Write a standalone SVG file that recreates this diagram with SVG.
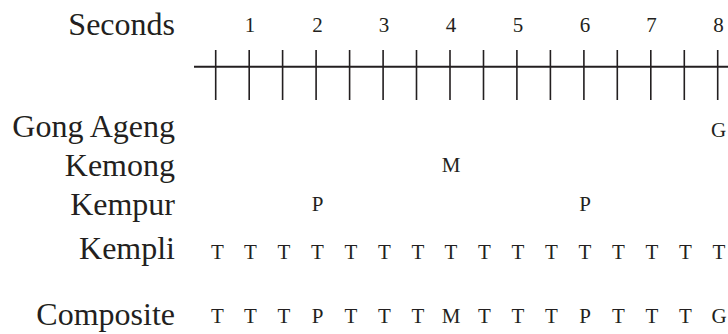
<svg xmlns="http://www.w3.org/2000/svg" width="728" height="334" viewBox="0 0 728 334">
<style>
.lbl{font-family:"Liberation Serif","Times New Roman",serif;font-size:32px;fill:#231f20;text-anchor:end}
.sm{font-family:"Liberation Serif","Times New Roman",serif;font-size:21px;fill:#231f20;text-anchor:middle}
.ax{stroke:#231f20;stroke-width:2;fill:none}
.tk{stroke:#231f20;stroke-width:1.6;fill:none}
</style>
<rect width="728" height="334" fill="#fff"/>
<g id="axis">
<text class="lbl" x="175" y="35">Seconds</text>
<text class="sm" x="250" y="32">1</text>
<text class="sm" x="317.5" y="32">2</text>
<text class="sm" x="384" y="32">3</text>
<text class="sm" x="451" y="32">4</text>
<text class="sm" x="518" y="32">5</text>
<text class="sm" x="585" y="32">6</text>
<text class="sm" x="651.5" y="32">7</text>
<text class="sm" x="718.5" y="32">8</text>
<line class="ax" x1="194" y1="66.7" x2="728" y2="66.7"/>
<path class="tk" d="M215.7 50V100M249.2 50V100M282.6 50V100M316.1 50V100M349.6 50V100M383.1 50V100M416.5 50V100M450.0 50V100M483.5 50V100M516.9 50V100M550.4 50V100M583.9 50V100M617.3 50V100M650.8 50V100M684.3 50V100M717.7 50V100"/>
</g>
<g id="gong-ageng">
<text class="lbl" x="175" y="137">Gong Ageng</text>
<text class="sm" x="718.5" y="137">G</text>
</g>
<g id="kemong">
<text class="lbl" x="175" y="176">Kemong</text>
<text class="sm" x="451" y="172">M</text>
</g>
<g id="kempur">
<text class="lbl" x="175" y="215">Kempur</text>
<text class="sm" x="317.5" y="211">P</text>
<text class="sm" x="585" y="211">P</text>
</g>
<g id="kempli">
<text class="lbl" x="175" y="259">Kempli</text>
<text class="sm" x="217.5" y="259">T</text>
<text class="sm" x="250.5" y="259">T</text>
<text class="sm" x="284" y="259">T</text>
<text class="sm" x="317.5" y="259">T</text>
<text class="sm" x="351" y="259">T</text>
<text class="sm" x="384.5" y="259">T</text>
<text class="sm" x="418" y="259">T</text>
<text class="sm" x="451" y="259">T</text>
<text class="sm" x="484.5" y="259">T</text>
<text class="sm" x="518" y="259">T</text>
<text class="sm" x="551.5" y="259">T</text>
<text class="sm" x="585" y="259">T</text>
<text class="sm" x="618.5" y="259">T</text>
<text class="sm" x="652" y="259">T</text>
<text class="sm" x="685.5" y="259">T</text>
<text class="sm" x="719" y="259">T</text>
</g>
<g id="composite">
<text class="lbl" x="175" y="325">Composite</text>
<text class="sm" x="217.5" y="323">T</text>
<text class="sm" x="250.5" y="323">T</text>
<text class="sm" x="284" y="323">T</text>
<text class="sm" x="317.5" y="323">P</text>
<text class="sm" x="351" y="323">T</text>
<text class="sm" x="384.5" y="323">T</text>
<text class="sm" x="418" y="323">T</text>
<text class="sm" x="451" y="323">M</text>
<text class="sm" x="484.5" y="323">T</text>
<text class="sm" x="518" y="323">T</text>
<text class="sm" x="551.5" y="323">T</text>
<text class="sm" x="585" y="323">P</text>
<text class="sm" x="618.5" y="323">T</text>
<text class="sm" x="652" y="323">T</text>
<text class="sm" x="685.5" y="323">T</text>
<text class="sm" x="719" y="323">G</text>
</g>
</svg>
